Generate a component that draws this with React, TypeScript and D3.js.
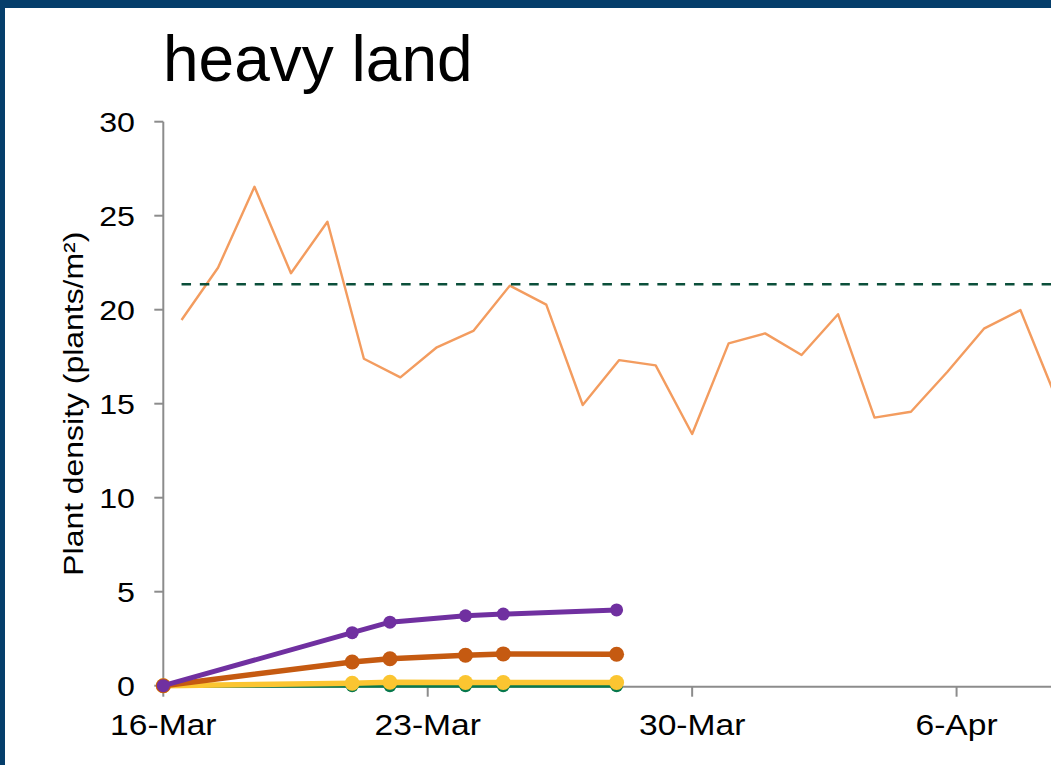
import * as d3 from "d3";
import React, { useEffect, useRef } from "react";

const title = "heavy land";
const yAxisTitle = "Plant density (plants/m²)";

// emergence counts on the sampling dates
const sampleDates = ["2021-03-16", "2021-03-21", "2021-03-22", "2021-03-24", "2021-03-25", "2021-03-28"];
const greenSeries = [0, 0, 0, 0, 0, 0];
const yellowSeries = [0, 0.13, 0.18, 0.17, 0.17, 0.17];
const brownSeries = [0, 1.26, 1.43, 1.62, 1.69, 1.67];
const purpleSeries = [0, 2.82, 3.38, 3.72, 3.81, 4.03];

// daily series on the secondary (category) axis
const dailyCount = 29;
const dailyDensity = [
  19.45, 22.23, 26.54, 21.94, 24.68, 17.39, 16.4, 18.0, 18.87, 21.28, 20.27, 14.93, 17.32, 17.04, 13.39,
  18.21, 18.74, 17.59, 19.76, 14.26, 14.57, 16.7, 18.99, 19.98, 15.2,
];
const targetDensity = 21.35;

const yTicks = [0, 5, 10, 15, 20, 25, 30];
const xTickDates = ["2021-03-16", "2021-03-23", "2021-03-30", "2021-04-06"];
const xStart = "2021-03-16";
const xEnd = "2021-04-13";

export default function App() {
  const svgRef = useRef(null);
  const width = 1051;
  const height = 765;
  const margin = { top: 121.7, left: 163.3, bottom: 765 - 685.7 };
  const plotRight = 1221;

  useEffect(() => {
    const svg = d3.select(svgRef.current);
    svg.selectAll("*").remove();
    const font = "Liberation Sans, Arial, sans-serif";
    const axisColor = "#8c8c8c";

    const parse = d3.utcParse("%Y-%m-%d");
    const x = d3
      .scaleUtc()
      .domain([parse(xStart), parse(xEnd)])
      .range([margin.left, plotRight]);
    const xCat = d3
      .scaleBand()
      .domain(d3.range(dailyCount))
      .range([margin.left, plotRight]);
    const catX = (i) => xCat(i) + xCat.bandwidth() / 2;
    const y = d3.scaleLinear().domain([0, 30]).range([height - margin.bottom, margin.top]);

    svg.append("rect").attr("width", width).attr("height", height).attr("fill", "#ffffff");

    // title
    svg
      .append("text")
      .attr("x", 163)
      .attr("y", 81)
      .attr("font-family", font)
      .attr("font-size", 64)
      .attr("fill", "#000")
      .text(title);

    // y axis
    const yAxis = svg.append("g");
    yAxis
      .append("line")
      .attr("x1", margin.left)
      .attr("x2", margin.left)
      .attr("y1", y(30))
      .attr("y2", y(0))
      .attr("stroke", axisColor)
      .attr("stroke-width", 2);
    yTicks.forEach((t) => {
      yAxis
        .append("line")
        .attr("x1", margin.left - 9)
        .attr("x2", margin.left)
        .attr("y1", y(t))
        .attr("y2", y(t))
        .attr("stroke", axisColor)
        .attr("stroke-width", 2);
      yAxis
        .append("text")
        .attr("transform", "translate(135," + y(t) + ") scale(1.15,1)")
        .attr("text-anchor", "end")
        .attr("dy", "0.36em")
        .attr("font-family", font)
        .attr("font-size", 28)
        .attr("fill", "#000")
        .text(t);
    });

    svg
      .append("text")
      .attr("transform", "translate(83," + (y(0) + y(30)) / 2 + ") rotate(-90) scale(1.14,1)")
      .attr("text-anchor", "middle")
      .attr("font-family", font)
      .attr("font-size", 28)
      .attr("fill", "#000")
      .text(yAxisTitle);

    // x axis
    const xAxis = svg.append("g");
    xAxis
      .append("line")
      .attr("x1", margin.left)
      .attr("x2", plotRight)
      .attr("y1", y(0) + 1)
      .attr("y2", y(0) + 1)
      .attr("stroke", axisColor)
      .attr("stroke-width", 2);
    xTickDates.map((s) => parse(s)).forEach((d) => {
      xAxis
        .append("line")
        .attr("x1", x(d))
        .attr("x2", x(d))
        .attr("y1", y(0) + 1)
        .attr("y2", y(0) + 11)
        .attr("stroke", axisColor)
        .attr("stroke-width", 2);
      xAxis
        .append("text")
        .attr("transform", "translate(" + x(d) + ",735) scale(1.12,1)")
        .attr("text-anchor", "middle")
        .attr("font-family", font)
        .attr("font-size", 30)
        .attr("fill", "#000")
        .text(d3.utcFormat("%-d-%b")(d));
    });

    // daily density (secondary axis)
    const dailyLine = d3
      .line()
      .x((d, i) => catX(i))
      .y((d) => y(d));
    svg
      .append("path")
      .datum(dailyDensity)
      .attr("d", dailyLine)
      .attr("fill", "none")
      .attr("stroke", "#f39c5f")
      .attr("stroke-width", 2.4)
      .attr("stroke-linejoin", "round");

    // target line
    svg
      .append("line")
      .attr("x1", catX(0))
      .attr("x2", catX(dailyCount - 1))
      .attr("y1", y(targetDensity))
      .attr("y2", y(targetDensity))
      .attr("stroke", "#0b4f3a")
      .attr("stroke-width", 2.6)
      .attr("stroke-dasharray", "9.5 8.8");

    // emergence series
    const series = [
      { values: greenSeries, color: "#07784c", width: 4, r: 6.5 },
      { values: yellowSeries, color: "#fbc531", width: 5.5, r: 7.5 },
      { values: brownSeries, color: "#c55a11", width: 5.5, r: 7.5 },
      { values: purpleSeries, color: "#7030a0", width: 5, r: 6.5 },
    ];
    const dates = sampleDates.map((s) => parse(s));
    const line = d3
      .line()
      .x((d, i) => x(dates[i]))
      .y((d) => y(d));
    series.forEach((s) => {
      const g = svg.append("g");
      g.append("path")
        .datum(s.values)
        .attr("d", line)
        .attr("fill", "none")
        .attr("stroke", s.color)
        .attr("stroke-width", s.width)
        .attr("stroke-linejoin", "round");
      g.selectAll("circle")
        .data(s.values)
        .enter()
        .append("circle")
        .attr("cx", (d, i) => x(dates[i]))
        .attr("cy", (d) => y(d))
        .attr("r", s.r)
        .attr("fill", s.color);
    });

    // frame
    svg.append("rect").attr("x", 0).attr("y", 0).attr("width", width).attr("height", 8).attr("fill", "#053e6b");
    svg.append("rect").attr("x", 0).attr("y", 0).attr("width", 5).attr("height", height).attr("fill", "#053e6b");
  });

  return (
    <div style={{ position: "absolute", left: 0, top: 0 }}>
      <svg width={width} height={height} ref={svgRef} style={{ display: "block" }}></svg>
    </div>
  );
}
